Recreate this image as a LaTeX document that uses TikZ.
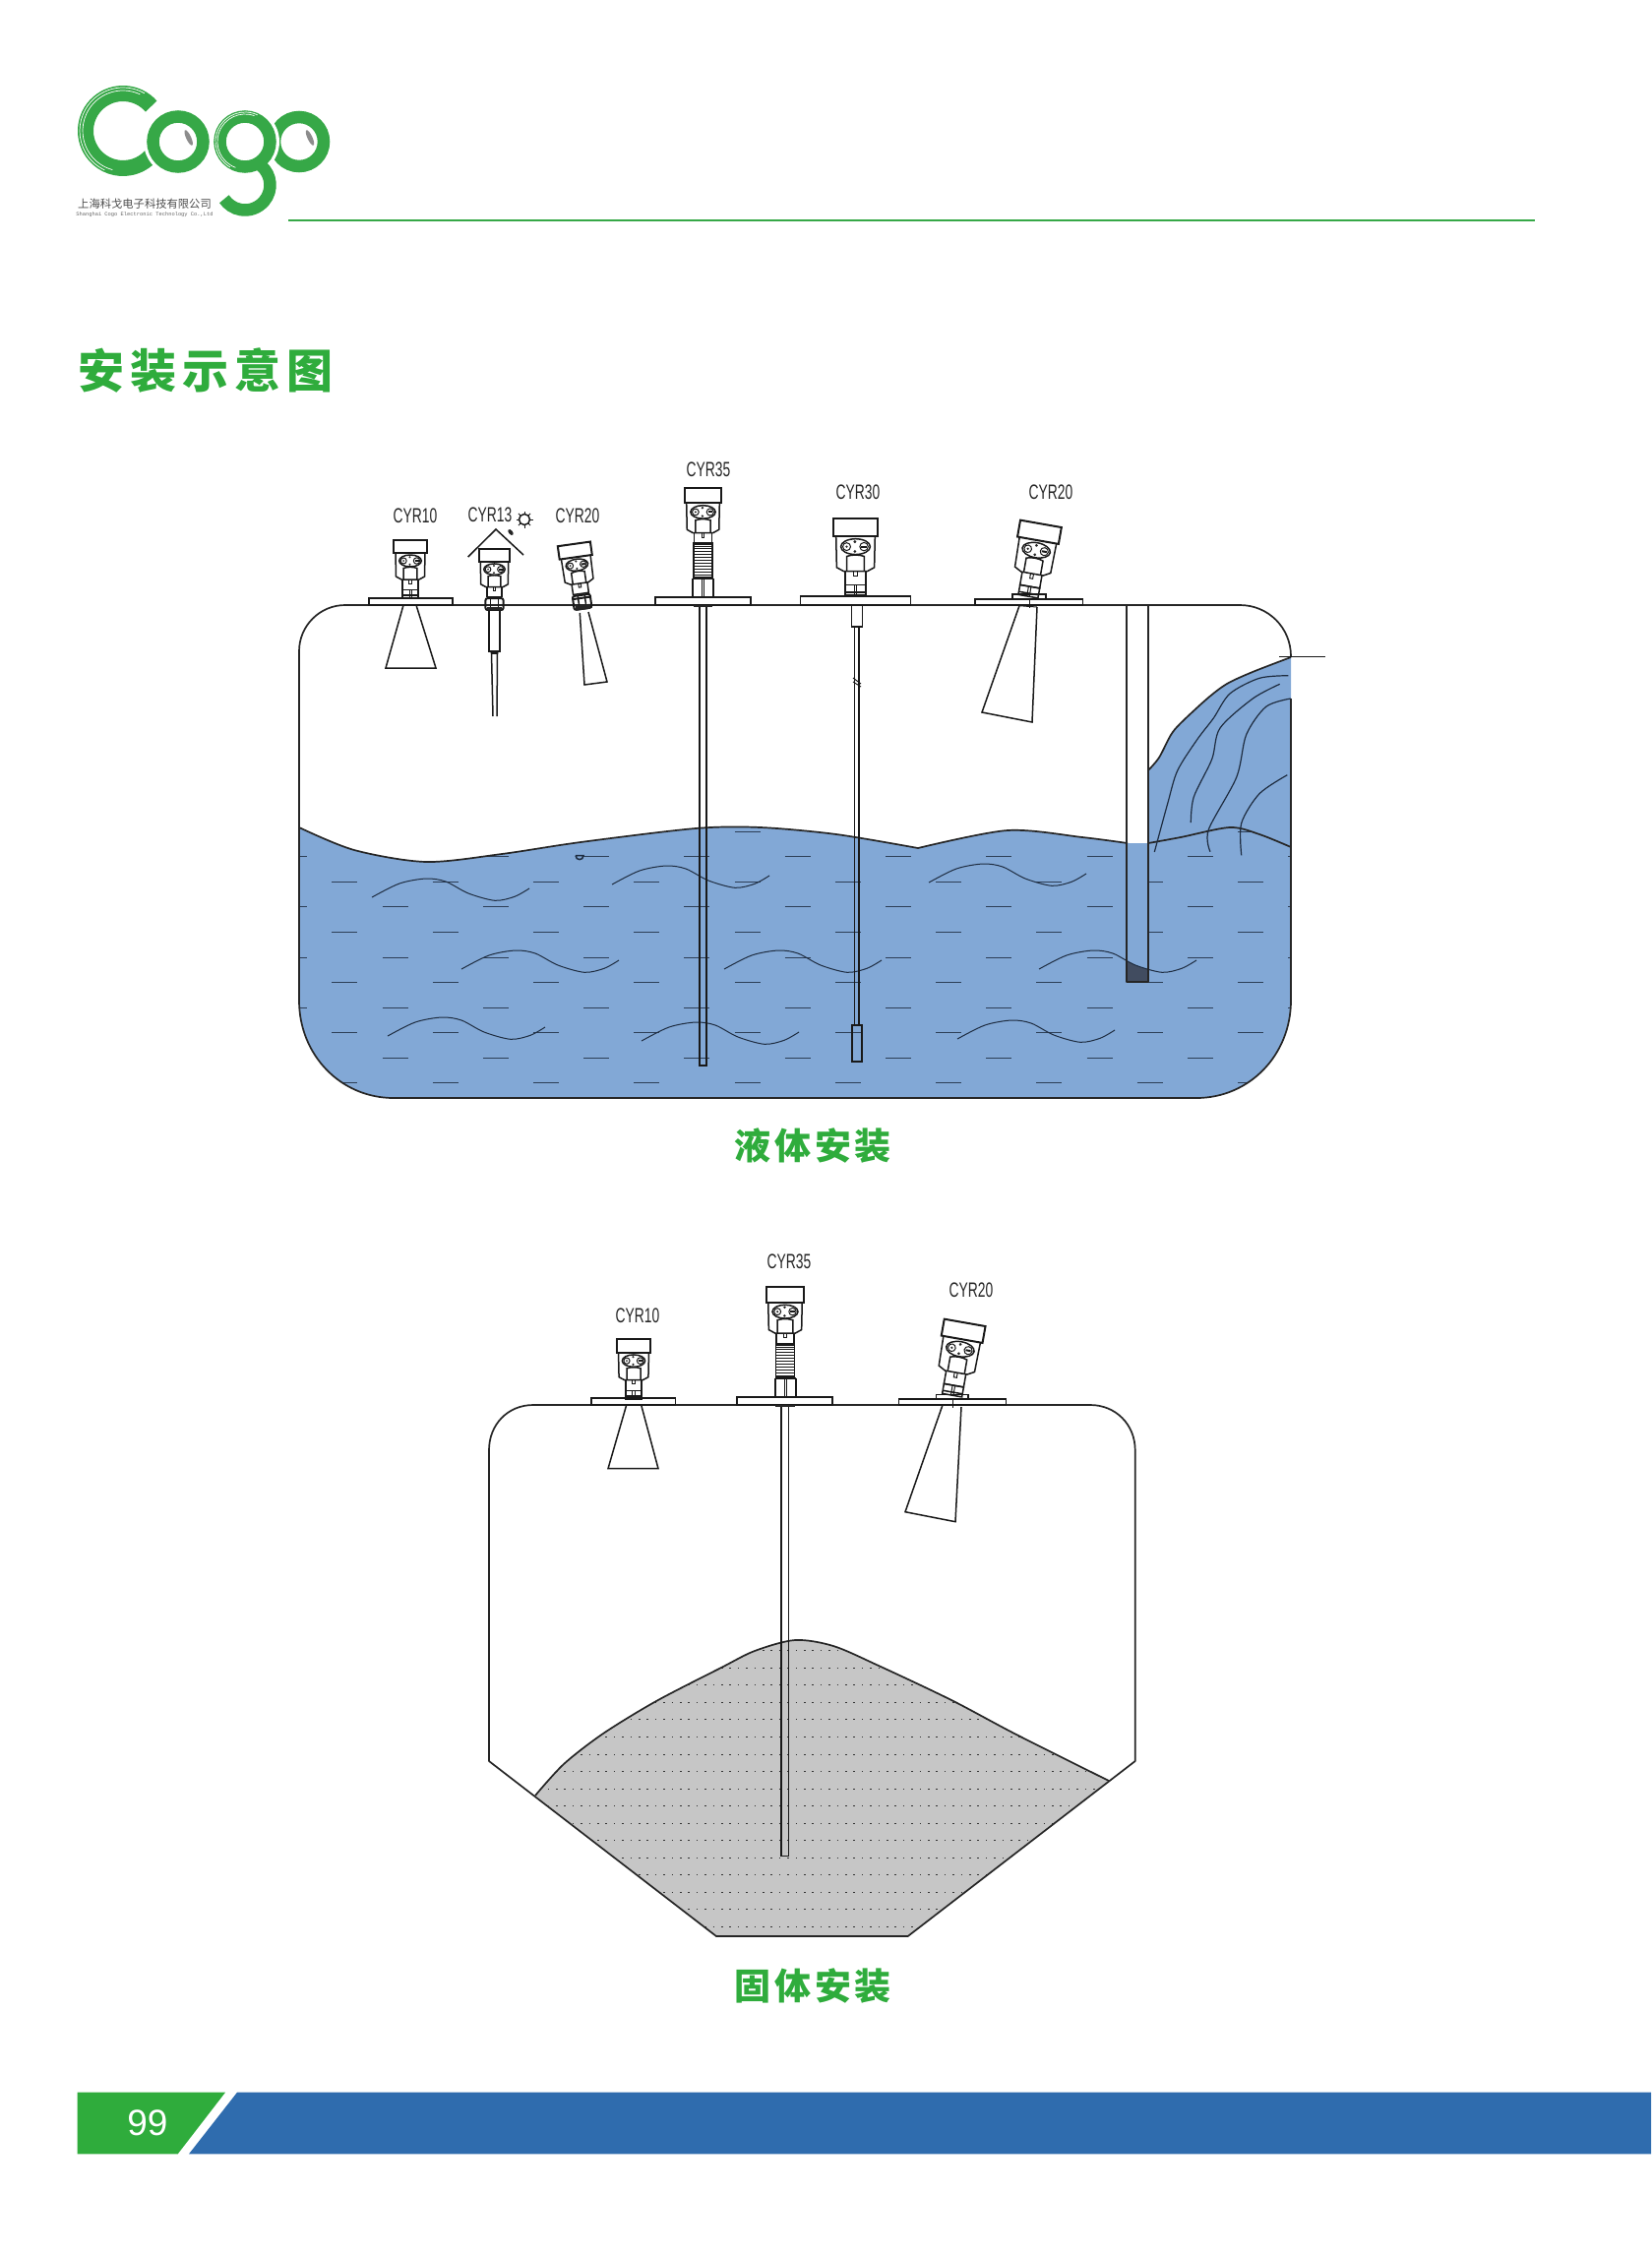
\documentclass[tikz,border=0pt]{standalone}
\usepackage{fontspec}
\setmainfont{Liberation Sans}
\newfontfamily\cjk{Noto Sans CJK SC}
\newfontfamily\narrow[FakeStretch=0.66]{Liberation Sans}
\newfontfamily\tinymono{Liberation Mono}
\definecolor{cogogreen}{HTML}{2FAC3C}
\definecolor{logogreen}{HTML}{36A847}
\definecolor{barblue}{HTML}{2F6CAE}
\definecolor{liquidblue}{HTML}{82A8D6}
\definecolor{inkblue}{HTML}{1E2C40}
\definecolor{pilegray}{HTML}{C6C6C6}
\definecolor{patchgray}{HTML}{414C60}
\tikzset{
  tankline/.style={line width=.85pt,draw=black!85,line join=round},
  inst/.style={line width=.75pt,draw=black!90,line join=miter},
  instfine/.style={line width=.5pt,draw=black!90},
  thickinst/.style={line width=1pt,draw=black!90},
  wave/.style={line width=.5pt,draw=inkblue},
  dashrow/.style={line width=.5pt,draw=inkblue!85!liquidblue,dash pattern=on 13pt off 38.15pt},
  dotrow/.style={line width=.55pt,draw=black!80,dash pattern=on .8pt off 3.4pt},
  label/.style={font=\narrow\fontsize{10.5pt}{12pt}\selectfont,text=black!85,inner sep=0pt},
  title/.style={font=\cjk\bfseries\fontsize{18.5pt}{22pt}\selectfont,text=cogogreen,inner sep=0pt},
  ring/.style={line width=6.25pt,draw=logogreen}
}
% x, y, rotation, scale, extra local drawing
\newcommand\radar[5]{%
  \begin{scope}[shift={(#1,#2)},rotate=#3,scale=#4]
    \draw[thickinst] (-16.7,-40.5) rectangle (16.7,-27);
    \draw[inst] (-15,-27) -- (-14.5,-3) -- (-9,0) -- (9,0) -- (14.5,-3) -- (15,-27);
    \draw[inst] (0,-19) ellipse (11.3 and 6);
    \draw[instfine] (-6.8,-19) circle (3);
    \fill[black!85] (-6.8,-19) circle (1);
    \draw[instfine] (6.5,-19) circle (3.2);
    \draw[thickinst] (4.5,-19) -- (8.5,-19);
    \fill[black!85] (-.5,-22.8) circle (1.2);
    \fill[black!85] (-.5,-15.3) circle (1.2);
    \draw[inst] (-6.8,0) -- (-6.8,-11.5) .. controls (-3,-13) and (3,-13) .. (6.8,-11.5) -- (6.8,0);
    \draw[inst] (-8,0) -- (-8,10.5) -- (8,10.5) -- (8,0);
    \draw[instfine] (-1.2,0) -- (-1.2,4) -- (1.2,4) -- (1.2,0);
    #5
  \end{scope}}
\newcommand\lowerpart{%
  \draw[inst] (-8,10.5) rectangle (8,18.5);
  \draw[instfine] (-1,10.5) -- (-1,18.5) (1,10.5) -- (1,18.5);
  \draw[inst] (-8,16) -- (8,16);}
\newcommand\nutpart{%
  \draw[thickinst,rounded corners=1pt] (-9,12) rectangle (9,26);
  \draw[inst] (-3.5,12) -- (-3.5,26) (3.5,12) -- (3.5,26);
  \draw[thickinst] (-9,15) -- (9,15);
  \fill[black!85] (-7.5,22) rectangle (7.5,27);}
% bellows section of the CYR35 (centre x, top, bottom of block, bottom)
\newcommand\bellows[4]{%
  \draw[inst] (#1-9.5,#2) rectangle (#1+9.5,#3);
  \foreach \b in {1,...,11} \draw[line width=.4pt,draw=black!90] (#1-9.5,#2+\b*2.9) -- (#1+9.5,#2+\b*2.9);
  \draw[thickinst] (#1-10.5,#3+.8) -- (#1-10.5,#4) (#1+10.5,#3+.8) -- (#1+10.5,#4);
  \draw[inst] (#1-10.5,#3+.8) -- (#1+10.5,#3+.8);
  \draw[instfine] (#1-1,#3+.8) -- (#1-1,#4) (#1+1,#3+.8) -- (#1+1,#4);}
\newcommand\seawave[2]{\draw[wave,shift={(#1,#2)}] plot[smooth] coordinates {(0,0) (28,-14) (55,-19) (75,-16) (98,-4) (125,3.3) (145,-.7) (160,-9)};}
\begin{document}
\begin{tikzpicture}[x=.5pt,y=-.5pt]
\useasboundingbox (0,0) rectangle (1678,2292);

% ---------- logo ----------
\begin{scope}[shift={(125,133)},y=.5pt]
  \draw[line width=8pt,draw=logogreen] (41:38) arc (41:319:38);
  \draw[line width=.35pt,draw=white] (65:41) arc (65:255:41);
  \draw[line width=.35pt,draw=white] (60:44) arc (60:245:44);
\end{scope}
\fill[white] (181,144) circle (35);
\draw[ring] (181,144) circle (25.5);
\draw[ring] (304,144) circle (25);
\fill[white] (249,144) circle (35);
\draw[ring] (249,144) circle (25.5);
\begin{scope}[shift={(249,188)},y=.5pt]
  \draw[line width=6.25pt,draw=logogreen] (50:25.5) arc (50:-146:25.5);
\end{scope}
\begin{scope}[shift={(249,144)},y=.5pt]
  \draw[line width=.35pt,draw=white] (70:28) arc (70:250:28);
  \draw[line width=.35pt,draw=white] (65:30) arc (65:240:30);
\end{scope}
\fill[black!45,rotate around={-65:(191.7,140)}] (191.7,140) ellipse (8.5 and 2.5);
\fill[black!45,rotate around={-65:(315,140)}] (315,140) ellipse (8.5 and 2.5);
\node[inner sep=0pt,text=black!70,font=\cjk\fontsize{5.65pt}{6pt}\selectfont] (logocn) at (147,207) {上海科戈电子科技有限公司};
\node[inner sep=0pt,text=black!60,font=\tinymono\fontsize{2.7pt}{3pt}\selectfont] (logoen) at (147,218) {Shanghai Cogo Electronic Technology Co.,Ltd};
\draw[line width=1pt,draw=logogreen] (293,224) -- (1560,224);

% ---------- title ----------
\node[inner sep=0pt,text=cogogreen,font=\cjk\bfseries\fontsize{23.5pt}{26pt}\selectfont] (maintitle) at (209,377) {安\hspace{3pt}装\hspace{3pt}示\hspace{3pt}意\hspace{3pt}图};

% ---------- liquid tank ----------
\def\liquidpath{(304,841) -- plot[smooth] coordinates {(304,841) (360,864) (433,876) (510,868) (590,856) (707,842) (773,841) (850,848) (933,862)} -- plot[smooth] coordinates {(933,862) (1024,844) (1100,851) (1146,857) (1167,857) (1200,851) (1250,841) (1280,848) (1312,861)} -- (1312,1017) .. controls (1312,1072) and (1270,1116) .. (1216,1116) -- (400,1116) .. controls (346,1116) and (304,1072) .. (304,1017) -- cycle}
\fill[liquidblue] \liquidpath;
\fill[liquidblue] (1167,857) -- plot[smooth] coordinates {(1167,783) (1178,770) (1190,747) (1200,735) (1227,710) (1247,695) (1273,683) (1312,668)} -- (1312,861) -- cycle;
\begin{scope}
  \clip \liquidpath;
  \foreach \yy/\xx in {845.5/235,870.5/286.2,896.5/235,921.5/286.2,947.5/235,973.5/286.2,998.5/235,1024.5/286.2,1049.5/235,1075.5/286.2,1100.5/235}
    \draw[dashrow] (\xx,\yy) -- (1330,\yy);
\end{scope}
% still well interior
\fill[liquidblue] (1145,857) rectangle (1167,998);
\begin{scope}
  \clip (1145,960) rectangle (1167,998);
  \fill[patchgray,shift={(1056,985)}] plot[smooth] coordinates {(0,0) (28,-14) (55,-19) (75,-16) (98,-4) (125,3.3) (145,-.7) (160,-9)} -- (160,30) -- (0,30) -- cycle;
\end{scope}
% waves
\seawave{378}{912}
\seawave{622}{899}
\seawave{944}{897}
\seawave{469}{985}
\seawave{736}{985}
\seawave{1056}{985}
\seawave{394}{1053}
\seawave{652}{1058}
\seawave{973}{1056}
% bubble
\draw[inst,draw=inkblue] (585,869.5) -- (593,869.5) .. controls (593,875) and (585,875) .. (585,869.5);
% tank outline
\draw[tankline] (1312,710) -- (1312,1017) .. controls (1312,1072) and (1270,1116) .. (1216,1116) -- (400,1116) .. controls (346,1116) and (304,1072) .. (304,1017) -- (304,662) .. controls (304,636) and (325,615) .. (351,615) -- (1260,615) .. controls (1289,615) and (1312,638) .. (1312,667);
\draw[tankline] (1145,615) -- (1145,998) -- (1167,998) -- (1167,615);
\draw[tankline] plot[smooth] coordinates {(304,841) (360,864) (433,876) (510,868) (590,856) (707,842) (773,841) (850,848) (933,862)};
\draw[tankline] plot[smooth] coordinates {(933,862) (1024,844) (1100,851) (1146,857)};
\draw[tankline] plot[smooth] coordinates {(1167,857) (1200,851) (1250,841) (1280,848) (1312,861)};
\draw[tankline] plot[smooth] coordinates {(1167,783) (1178,770) (1190,747) (1200,735) (1227,710) (1247,695) (1273,683) (1312,668)};
\draw[inst] (1300,667.6) -- (1347,667.6);
% slope streaks
\draw[wave,line width=.6pt] plot[smooth] coordinates {(1309.3,686.7) (1280,689.3) (1250,705) (1233.3,730) (1216.7,751.7) (1196.7,783.3) (1186.7,816.7) (1173.3,866)};
\draw[wave,line width=.6pt] plot[smooth] coordinates {(1300.7,695.3) (1273.3,710) (1240,740) (1231.7,771.7) (1213.3,810) (1210.3,836)};
\draw[wave,line width=.6pt] plot[smooth] coordinates {(1311.7,710) (1286.7,718.3) (1266.7,746.7) (1256.7,790) (1228.3,843.3) (1230,865.7)};
\draw[wave,line width=.6pt] plot[smooth] coordinates {(1308.3,787.7) (1280,806.7) (1261.7,836.7) (1261.7,869.3)};

% instruments on the liquid tank
\radar{417}{589}{0}{1}{\lowerpart}
\draw[inst] (375,608) rectangle (460,615);
\draw[inst] (410,615) -- (392,679) -- (443,679) -- (423,615);
\node[label] (lqa) at (422,524) {CYR10};

\radar{502.5}{596.7}{0}{.95}{\draw[thickinst,rounded corners=1pt] (-9.5,12) rectangle (9.5,24.5);\draw[inst] (-4,12) -- (-4,24.5) (4,12) -- (4,24.5);\fill[black!85] (-8,21) rectangle (8,25);}
\draw[inst] (475.7,566) -- (504,538) -- (532,564);
\draw[inst] (497,620) -- (497,662) -- (508,662) -- (508,620);
\draw[inst] (499,662) -- (499.5,664) -- (501,728);
\draw[inst] (506,662) -- (505.5,664) -- (505,728);
\draw[inst] (499,664) -- (506,664);
\node[label] (lqb) at (498,523) {CYR13};
\draw[inst] (533,528) circle (5.5);
\foreach \a in {0,45,...,315} \draw[instfine,shift={(533,528)}] (\a:5.5) -- (\a:8.5);
\fill[black!85,rotate around={-50:(519,541)}] (519,541) ellipse (3.5 and 2);

\radar{589}{593}{8}{1}{\nutpart}
\draw[inst] (589.3,623) -- (594,696) -- (617,693) -- (598,622);
\node[label] (lqc) at (587,524) {CYR20};

\radar{714.5}{541.7}{0}{1.12}{}
\bellows{714.5}{552}{587}{607}
\draw[inst] (666,607) rectangle (763,615);
\fill[black!85] (705,615) rectangle (724,617);
\draw[inst] (711,617) -- (711,1083) -- (718,1083) -- (718,617);
\node[label] (lqd) at (720,477) {CYR35};

\radar{869.5}{580.7}{0}{1.32}{\lowerpart}
\draw[inst] (813.7,606) rectangle (925.7,615);
\draw[inst] (865.7,615) rectangle (876.7,637);
\draw[inst] (868.5,637) -- (868.5,1042) (873,637) -- (873,1042);
\draw[instfine] (867,689) -- (875,695) (867,693) -- (875,698);
\draw[inst] (866,1042) rectangle (876,1079);
\node[label] (lqe) at (872,500) {CYR30};

\radar{1049}{583}{-10}{1.27}{\lowerpart}
\draw[inst] (1029,604) rectangle (1063,609);
\draw[inst] (991,609) rectangle (1100.7,615);
\draw[instfine] (1046,609) -- (1046,618);
\draw[inst] (1036,615.7) -- (998,724) -- (1049,734) -- (1054,617);
\draw[instfine] (1036,615.7) -- (1054,617);
\node[label] (lqf) at (1068,500) {CYR20};

\node[title] (liquidtitle) at (826,1164) {液\hspace{2pt}体\hspace{2pt}安\hspace{2pt}装};

% ---------- solids tank ----------
\def\pilepath{plot[smooth] coordinates {(544,1825) (573,1793) (613,1762) (667,1729) (733,1695) (767,1678) (808,1667) (847,1673) (893,1693) (967,1728) (1033,1763) (1127,1810)} -- (922.7,1968) -- (728,1968) -- cycle}
\fill[pilegray] \pilepath;
\begin{scope}
  \clip \pilepath;
  \foreach \yy in {1677.5,1695.5,1712.5,1730.5,1747.5,1765.5,1783.5,1800.5,1818.5,1835.5,1853.5,1870.5,1888.5,1905.5,1923.5,1940.5,1958.5}
    \draw[dotrow] (539.8,\yy) -- (1130,\yy);
\end{scope}
\draw[tankline] (497,1474) .. controls (497,1448) and (516,1428) .. (542,1428) -- (1108,1428) .. controls (1134,1428) and (1153.7,1448) .. (1153.7,1474) -- (1153.7,1790) -- (922.7,1968) -- (728,1968) -- (497,1790) -- cycle;
\draw[tankline] plot[smooth] coordinates {(544,1825) (573,1793) (613,1762) (667,1729) (733,1695) (767,1678) (808,1667) (847,1673) (893,1693) (967,1728) (1033,1763) (1127,1810)};

\radar{644}{1402.7}{0}{1.03}{\lowerpart}
\draw[inst] (601,1421) rectangle (686.7,1428);
\draw[inst] (636.7,1428) -- (618,1492.7) -- (669,1492.7) -- (651.7,1428);
\node[label] (sla) at (648,1337) {CYR10};

\radar{798}{1355}{0}{1.15}{}
\bellows{798}{1366}{1400}{1420}
\draw[inst] (749,1420) rectangle (846,1428);
\fill[black!85] (788,1428) rectangle (808,1430);
\draw[inst] (794,1430) -- (794,1886.7) -- (801.5,1886.7) -- (801.5,1430);
\node[label] (slb) at (802,1282) {CYR35};

\radar{971.7}{1395}{-10}{1.27}{\lowerpart}
\draw[inst] (951.7,1417.7) rectangle (984,1422);
\draw[inst] (913.7,1422) rectangle (1022.7,1428);
\draw[instfine] (968,1422) -- (968,1431);
\draw[inst] (958,1428) -- (920,1536.7) -- (971,1546.7) -- (977,1430);
\node[label] (slc) at (987,1311) {CYR20};

\node[title] (solidtitle) at (826,2018) {固\hspace{2pt}体\hspace{2pt}安\hspace{2pt}装};

% ---------- footer ----------
\fill[cogogreen] (78.7,2126.7) -- (229,2126.7) -- (180.7,2189.3) -- (78.7,2189.3) -- cycle;
\fill[barblue] (241,2126.7) -- (1678,2126.7) -- (1678,2189.3) -- (192,2189.3) -- cycle;
\node[inner sep=0pt,text=white,font=\fontsize{18.5pt}{20pt}\selectfont] (pageno) at (150,2158) {99};
\end{tikzpicture}
\end{document}
